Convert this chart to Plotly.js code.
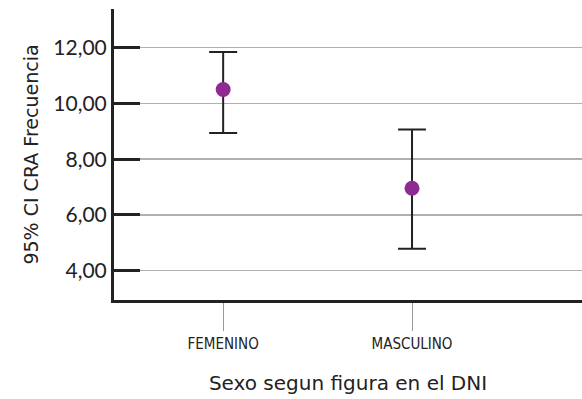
<!DOCTYPE html>
<html>
<head>
<meta charset="utf-8">
<script src="https://cdn.plot.ly/plotly-3.0.1.min.js"></script>
<style>html,body{margin:0;padding:0;background:#fff;}#chart{width:582px;height:399px;}</style>
</head>
<body>
<div id="chart"></div>
<script>
var categories = ["FEMENINO", "MASCULINO"];
var means = [10.5, 6.96];
var upper = [11.85, 9.07];
var lower = [8.94, 4.79];
var yTicks = [4, 6, 8, 10, 12];
var yTickLabels = ["4,00", "6,00", "8,00", "10,00", "12,00"];

var xIdx = categories.map(function(_, i){ return i; });
var trace = {
  type: "scatter",
  mode: "markers",
  x: xIdx,
  y: means,
  marker: {color: "#8E2B92", size: 15},
  error_y: {
    type: "data",
    symmetric: false,
    array: upper.map(function(u, i){ return u - means[i]; }),
    arrayminus: lower.map(function(l, i){ return means[i] - l; }),
    color: "#222222",
    thickness: 2,
    width: 14
  },
  hoverinfo: "skip",
  showlegend: false
};

var layout = {
  width: 582, height: 399,
  margin: {l: 114, r: 0, t: 9, b: 99},
  paper_bgcolor: "#ffffff",
  plot_bgcolor: "#ffffff",
  font: {family: "Lato, 'Open Sans', sans-serif", color: "#222222"},
  xaxis: {
    range: [-0.578, 1.9],
    tickmode: "array",
    tickvals: xIdx,
    ticktext: categories,
    ticks: "outside",
    ticklen: 28,
    tickwidth: 1,
    tickcolor: "#999999",
    showgrid: false,
    zeroline: false,
    showline: true,
    linecolor: "#222222",
    linewidth: 3,
    tickfont: {family: "'DejaVu Sans Condensed', 'DejaVu Sans', sans-serif", size: 15, color: "#222222"},
    title: {text: "Sexo segun figura en el DNI", font: {family: "'DejaVu Sans', sans-serif", size: 20, color: "#222222"}, standoff: 24},
    fixedrange: true
  },
  yaxis: {
    range: [2.95, 13.39],
    tickmode: "array",
    tickvals: yTicks,
    ticktext: yTickLabels,
    ticks: "inside",
    ticklen: 26,
    tickwidth: 3,
    tickcolor: "#222222",
    showgrid: true,
    gridcolor: "#b0b0b0",
    gridwidth: 1.5,
    zeroline: false,
    showline: true,
    linecolor: "#222222",
    linewidth: 3,
    tickfont: {size: 21, color: "#222222"},
    title: {text: "95% CI CRA Frecuencia", font: {family: "'DejaVu Sans', sans-serif", size: 19, color: "#222222"}, standoff: 10},
    fixedrange: true
  }
};

Plotly.newPlot("chart", [trace], layout, {displayModeBar: false, staticPlot: true});
</script>
</body>
</html>
